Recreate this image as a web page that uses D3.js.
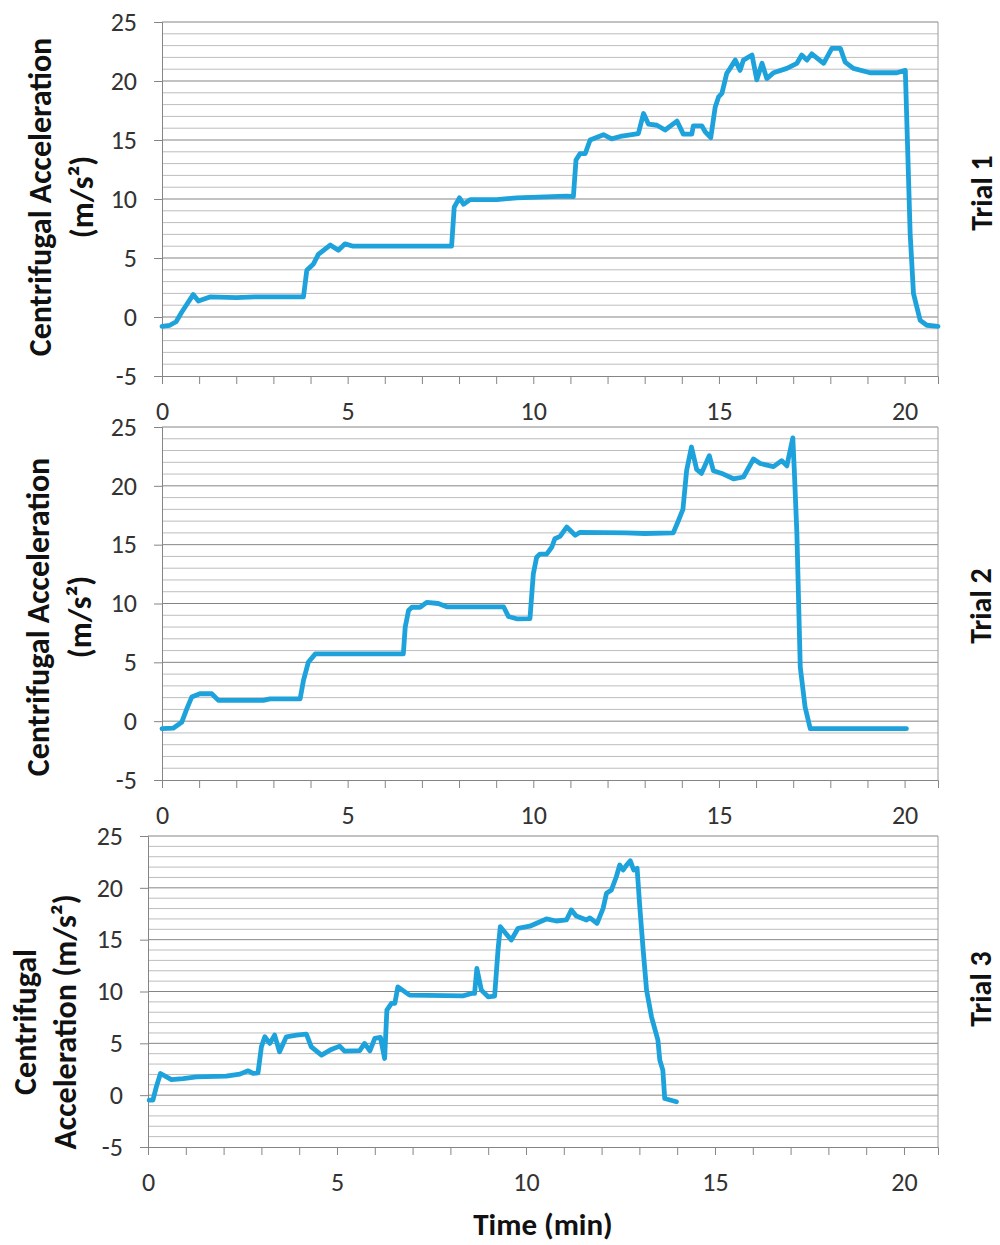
<!DOCTYPE html>
<html>
<head>
<meta charset="utf-8">
<script src="https://cdn.jsdelivr.net/npm/d3@7"></script>
<style>
  html, body { margin: 0; padding: 0; background: #fff; }
  svg { display: block; }
</style>
</head>
<body>
<svg id="chart" width="1000" height="1245"></svg>
<script>
// ---------- DATA ----------
const xTickValues = [0,1,2,3,4,5,6,7,8,9,10,11,12,13,14,15,16,17,18,19,20];
const xTickLabels = [0, 5, 10, 15, 20];
const yTickLabels = [-5, 0, 5, 10, 15, 20, 25];
const trialNames = ["Trial 1", "Trial 2", "Trial 3"];
const xTitle = "Time (min)";

// [time (min), centrifugal acceleration (m/s^2)]
const trial1 = [
  [0,-0.8],[0.21,-0.7],[0.38,-0.4],[0.53,0.4],[0.84,1.9],[0.98,1.35],[1.29,1.7],[2.0,1.65],[2.5,1.7],[3.0,1.7],
  [3.81,1.7],[3.9,3.96],[4.08,4.5],[4.21,5.3],[4.53,6.1],[4.75,5.65],[4.93,6.2],[5.15,6.0],[6.0,6.0],[7.0,6.0],
  [7.8,6.0],[7.87,9.3],[8.01,10.1],[8.12,9.55],[8.3,9.95],[9.02,9.95],[9.55,10.1],[10.9,10.25],[11.08,10.2],
  [11.15,13.3],[11.26,13.85],[11.4,13.85],[11.53,15.0],[11.89,15.45],[12.11,15.1],[12.34,15.3],[12.83,15.55],
  [12.97,17.25],[13.1,16.35],[13.33,16.25],[13.55,15.85],[13.87,16.6],[14.04,15.5],[14.27,15.5],[14.31,16.2],
  [14.54,16.2],[14.63,15.7],[14.78,15.2],[14.9,17.8],[14.99,18.65],[15.08,18.95],[15.21,20.65],[15.3,21.07],
  [15.44,21.77],[15.57,20.9],[15.66,21.77],[15.89,22.2],[16.02,20.1],[16.16,21.5],[16.29,20.2],[16.47,20.7],
  [16.83,21.07],[17.1,21.5],[17.23,22.2],[17.37,21.77],[17.5,22.3],[17.82,21.5],[18.04,22.77],[18.27,22.77],
  [18.4,21.6],[18.62,21.07],[19.07,20.7],[19.79,20.7],[20.02,20.9],[20.15,7.07],[20.24,1.98],[20.42,-0.28],
  [20.6,-0.7],[20.9,-0.8]
];
const trial2 = [
  [0,-0.64],[0.3,-0.6],[0.53,-0.1],[0.67,1.06],[0.8,2.05],[1.02,2.33],[1.34,2.33],[1.52,1.77],[2.73,1.77],
  [2.91,1.9],[3.72,1.9],[3.81,3.46],[3.94,5.0],[4.13,5.72],[6.5,5.72],[6.55,7.98],[6.64,9.4],[6.73,9.68],
  [6.95,9.68],[7.13,10.1],[7.44,10.0],[7.67,9.72],[9.2,9.72],[9.33,8.9],[9.55,8.7],[9.91,8.72],[10.0,12.5],
  [10.09,13.93],[10.18,14.2],[10.36,14.2],[10.5,14.8],[10.58,15.5],[10.72,15.7],[10.9,16.5],[11.13,15.8],
  [11.26,16.05],[12.5,16.0],[13.0,15.95],[13.77,16.0],[13.91,17.05],[14.03,18.0],[14.13,21.3],[14.26,23.3],
  [14.4,21.4],[14.53,21.06],[14.74,22.56],[14.85,21.29],[15.12,21.0],[15.39,20.6],[15.66,20.75],[15.93,22.28],
  [16.11,21.9],[16.47,21.63],[16.69,22.14],[16.83,21.7],[16.99,24.07],[17.03,21.3],[17.1,15.9],[17.19,4.6],
  [17.32,1.2],[17.46,-0.64],[20.05,-0.64]
];
const trial3 = [
  [0.03,-0.48],[0.13,-0.48],[0.22,0.8],[0.33,2.09],[0.62,1.5],[0.93,1.6],[1.28,1.77],[2.07,1.83],[2.43,2.03],
  [2.65,2.35],[2.78,2.1],[2.91,2.15],[3.0,4.66],[3.09,5.63],[3.22,4.99],[3.35,5.79],[3.48,4.18],[3.66,5.63],
  [3.93,5.79],[4.19,5.89],[4.32,4.66],[4.59,3.86],[4.85,4.41],[5.07,4.73],[5.2,4.25],[5.6,4.3],[5.73,4.99],
  [5.87,4.27],[6.0,5.47],[6.15,5.57],[6.26,3.54],[6.32,8.2],[6.44,8.85],[6.53,8.85],[6.61,10.45],[6.92,9.65],
  [8.33,9.58],[8.56,9.81],[8.64,9.81],[8.7,12.23],[8.82,10.13],[9.0,9.49],[9.17,9.55],[9.26,14.0],[9.32,16.25],
  [9.61,14.96],[9.79,16.1],[10.1,16.3],[10.54,17.0],[10.8,16.8],[11.07,16.9],[11.2,17.86],[11.33,17.28],
  [11.6,16.9],[11.69,17.1],[11.88,16.57],[12.04,18.02],[12.13,19.47],[12.26,19.79],[12.39,21.07],[12.48,22.2],
  [12.57,21.72],[12.66,22.2],[12.76,22.6],[12.85,21.72],[12.94,21.88],[13.01,18.18],[13.1,14.0],[13.19,10.13],
  [13.32,7.56],[13.49,5.3],[13.54,3.38],[13.62,2.41],[13.67,-0.32],[13.98,-0.64]
];

// ---------- LAYOUT ----------
const FONT = "Carlito, 'Open Sans', 'Liberation Sans', sans-serif";
const LINE_COLOR = "#1ea2dc";
const TICK_FS = 26;
const TITLE_FS = 32;
const panels = [
  { data: trial1, name: trialNames[0], left: 162, right: 938, top: 22, bottom: 376,
    titleLines: ["Centrifugal Acceleration", "(m/s²)"], titleX: [40, 82], titleY: 197, nameX: 981, nameY: 193 },
  { data: trial2, name: trialNames[1], left: 162, right: 938, top: 427, bottom: 780,
    titleLines: ["Centrifugal Acceleration", "(m/s²)"], titleX: [38, 80], titleY: 617, nameX: 980, nameY: 606 },
  { data: trial3, name: trialNames[2], left: 148, right: 938, top: 836, bottom: 1147,
    titleLines: ["Centrifugal", "Acceleration (m/s²)"], titleX: [25, 65], titleY: 1022, nameX: 980, nameY: 989 }
];

const svg = d3.select("#chart");

panels.forEach(p => {
  const x = d3.scaleLinear().domain([0, 20.9]).range([p.left, p.right]);
  const y = d3.scaleLinear().domain([-5, 25]).range([p.bottom, p.top]);
  const g = svg.append("g");

  // minor gridlines
  const minor = d3.range(-4, 25).filter(v => v % 5 !== 0);
  g.selectAll("line.minor").data(minor).join("line")
    .attr("x1", p.left).attr("x2", p.right)
    .attr("y1", d => y(d)).attr("y2", d => y(d))
    .attr("stroke", "#bdbdbd").attr("stroke-width", 1);
  // major gridlines
  g.selectAll("line.major").data([0, 5, 10, 15, 20, 25]).join("line")
    .attr("x1", p.left).attr("x2", p.right)
    .attr("y1", d => y(d)).attr("y2", d => y(d))
    .attr("stroke", "#858585").attr("stroke-width", 1);
  // right border
  g.append("line").attr("x1", p.right).attr("x2", p.right)
    .attr("y1", p.top).attr("y2", p.bottom).attr("stroke", "#9a9a9a");

  // y axis
  const yAxis = g.append("g").attr("transform", `translate(${p.left},0)`)
    .call(d3.axisLeft(y).tickValues(yTickLabels).tickSize(8).tickPadding(17).tickFormat(d => String(d)));
  yAxis.select(".domain").attr("stroke", "#858585");
  yAxis.selectAll(".tick line").attr("stroke", "#858585");
  yAxis.selectAll(".tick text").attr("font-family", FONT).attr("font-size", TICK_FS).attr("fill", "#333");

  // x axis
  const xAxis = g.append("g").attr("transform", `translate(0,${p.bottom})`)
    .call(d3.axisBottom(x).tickValues(xTickValues).tickSize(8)
      .tickFormat(d => xTickLabels.includes(d) ? String(d) : ""));
  xAxis.select(".domain").attr("stroke", "#858585");
  xAxis.selectAll(".tick line").attr("stroke", "#858585");
  xAxis.selectAll(".tick text").attr("font-family", FONT).attr("font-size", TICK_FS).attr("fill", "#333")
    .attr("y", 35).attr("dy", "0.35em");

  // line
  const line = d3.line().x(d => x(d[0])).y(d => y(d[1]));
  g.append("path").datum(p.data).attr("d", line)
    .attr("fill", "none").attr("stroke", LINE_COLOR).attr("stroke-width", 4.8)
    .attr("stroke-linejoin", "round").attr("stroke-linecap", "round");

  // y title
  p.titleLines.forEach((t, i) => {
    g.append("text")
      .attr("transform", `translate(${p.titleX[i]},${p.titleY}) rotate(-90)`)
      .attr("text-anchor", "middle").attr("dominant-baseline", "central")
      .attr("font-family", FONT).attr("font-weight", "bold").attr("font-size", TITLE_FS)
      .attr("fill", "#111").text(t);
  });

  // trial label
  g.append("text")
    .attr("transform", `translate(${p.nameX},${p.nameY}) rotate(-90)`)
    .attr("text-anchor", "middle").attr("dominant-baseline", "central")
    .attr("font-family", FONT).attr("font-weight", "bold").attr("font-size", 30)
    .attr("fill", "#111").text(p.name);
});

// x title
svg.append("text").attr("x", 543).attr("y", 1224)
  .attr("text-anchor", "middle").attr("dominant-baseline", "central")
  .attr("font-family", FONT).attr("font-weight", "bold").attr("font-size", 31)
  .attr("fill", "#111").text(xTitle);
</script>
</body>
</html>
